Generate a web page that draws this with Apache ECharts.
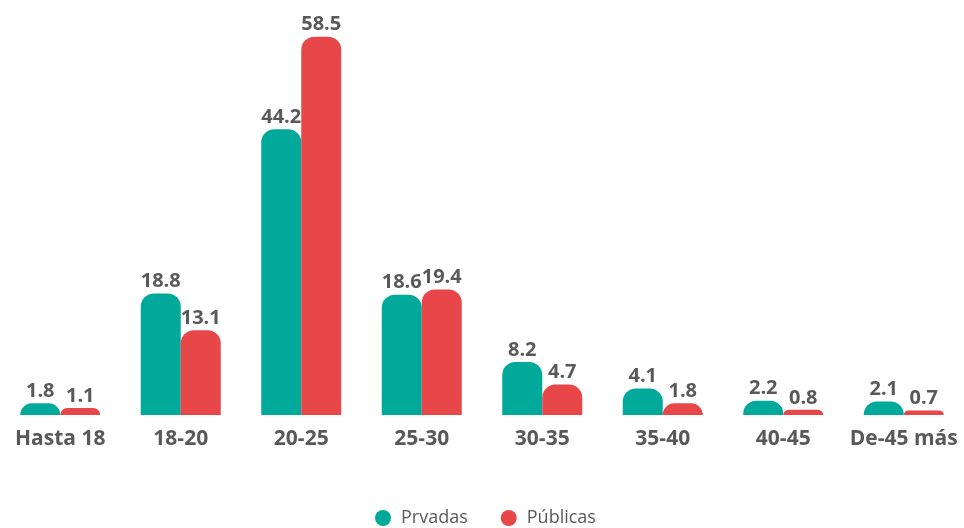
<!DOCTYPE html>
<html><head><meta charset="utf-8">
<script src="https://cdn.jsdelivr.net/npm/echarts@6/dist/echarts.min.js"></script>
<style>html,body{margin:0;padding:0;background:#fff}#c{width:964px;height:528px}</style>
</head><body><div id="c"></div>
<script>
const categories = ["Hasta 18","18-20","20-25","25-30","30-35","35-40","40-45","De-45 más"];
const privadas = [1.8,18.8,44.2,18.6,8.2,4.1,2.2,2.1];
const publicas = [1.1,13.1,58.5,19.4,4.7,1.8,0.8,0.7];
const seriesNames = ["Prvadas","Públicas"];
const chart = echarts.init(document.getElementById('c'));
const lbl = {show:true,position:'top',distance:2,color:'#595959',fontFamily:'Open Sans',fontWeight:'bold',fontSize:20};
chart.setOption({
  animation:false,
  grid:{left:-1,right:-3,top:27,bottom:113},
  legend:{left:375,top:509,padding:0,itemWidth:16,itemHeight:16,icon:'circle',itemGap:33,textStyle:{color:'#595959',fontSize:18,fontFamily:'Open Sans',padding:[0,0,0,5]},data:seriesNames},
  xAxis:{type:'category',data:categories,axisLine:{show:false},axisTick:{show:false},
    axisLabel:{color:'#595959',fontWeight:'bold',fontSize:21,fontFamily:'Open Sans',margin:14,interval:0}},
  yAxis:{type:'value',min:0,max:60,show:false,splitLine:{show:false}},
  series:[
    {name:seriesNames[0],type:'bar',data:privadas,barWidth:40,barGap:'0%',itemStyle:{color:'#00A99A',borderRadius:[13,13,0,0]},label:lbl},
    {name:seriesNames[1],type:'bar',data:publicas,barWidth:40,barGap:'0%',itemStyle:{color:'#E8474A',borderRadius:[13,13,0,0]},label:lbl}
  ]
});
</script></body></html>
